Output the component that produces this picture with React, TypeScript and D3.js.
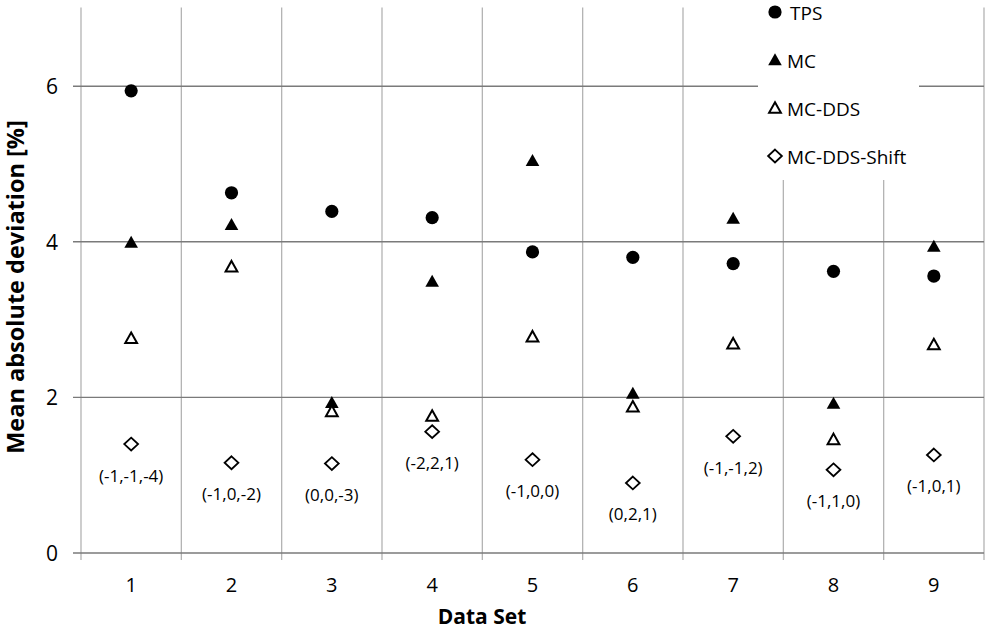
import { scaleBand, scaleLinear } from 'd3'

const categories = ['1', '2', '3', '4', '5', '6', '7', '8', '9']
const tps = [5.94, 4.63, 4.39, 4.31, 3.87, 3.8, 3.72, 3.62, 3.56]
const mc = [3.99, 4.22, 1.93, 3.49, 5.04, 2.05, 4.3, 1.92, 3.94]
const mcDds = [2.76, 3.68, 1.82, 1.76, 2.78, 1.88, 2.69, 1.46, 2.68]
const mcDdsShift = [1.4, 1.16, 1.15, 1.56, 1.2, 0.9, 1.5, 1.07, 1.26]
const shiftLabels = ['(-1,-1,-4)', '(-1,0,-2)', '(0,0,-3)', '(-2,2,1)', '(-1,0,0)', '(0,2,1)', '(-1,-1,2)', '(-1,1,0)', '(-1,0,1)']
const yTicks = [0, 2, 4, 6]
const legendNames = ['TPS', 'MC', 'MC-DDS', 'MC-DDS-Shift']

const W = 992
const H = 629
const left = 81
const right = 984
const top = 8.4
const bottom = 553
const font = '"Open Sans", sans-serif'

type Kind = 'circle' | 'tri' | 'openTri' | 'diamond'

function Marker({ kind, x, y }: { kind: Kind; x: number; y: number }) {
  if (kind === 'circle') return <circle cx={x} cy={y} r={6.6} fill="#000" />
  if (kind === 'tri')
    return <path d="M0,-6.8L6.8,5.2L-6.8,5.2Z" transform={`translate(${x},${y})`} fill="#000" />
  if (kind === 'openTri')
    return (
      <path
        d="M0,-5.8L5.9,4.8L-5.9,4.8Z"
        transform={`translate(${x},${y})`}
        fill="#fff"
        stroke="#000"
        strokeWidth={2}
      />
    )
  return (
    <path
      d="M0,-6.4L6.9,0L0,6.4L-6.9,0Z"
      transform={`translate(${x},${y})`}
      fill="#fff"
      stroke="#000"
      strokeWidth={1.8}
    />
  )
}

export default function App() {
  const x = scaleBand<string>().domain(categories).range([left, right]).paddingInner(0).paddingOuter(0)
  const y = scaleLinear().domain([0, 7]).range([bottom, top])
  const cx = (c: string) => (x(c) ?? 0) + x.bandwidth() / 2

  const series: { kind: Kind; values: number[] }[] = [
    { kind: 'circle', values: tps },
    { kind: 'tri', values: mc },
    { kind: 'openTri', values: mcDds },
    { kind: 'diamond', values: mcDdsShift },
  ]
  const legendKinds: Kind[] = ['circle', 'tri', 'openTri', 'diamond']
  const bounds = [...categories.map((c) => x(c) ?? 0), right]

  return (
    <svg
      width={W}
      height={H}
      style={{ position: 'absolute', left: 0, top: 0, background: '#fff' }}
      fontFamily={font}
    >
      <rect width={W} height={H} fill="#fff" />
      {/* vertical grid */}
      {bounds.map((b, i) => (
        <line key={`v${i}`} x1={b} x2={b} y1={top - 1} y2={bottom + 7} stroke="#b3b3b3" strokeWidth={1.3} />
      ))}
      {/* horizontal grid */}
      {yTicks.map((t) => (
        <line key={`h${t}`} x1={left - 8} x2={right} y1={y(t)} y2={y(t)} stroke="#7a7a7a" strokeWidth={1.4} />
      ))}
      {yTicks.map((t) => (
        <text key={`yl${t}`} x={58} y={y(t)} textAnchor="end" dominantBaseline="central" fontSize={21} fill="#000">
          {t}
        </text>
      ))}
      {categories.map((c) => (
        <text key={`xl${c}`} x={cx(c)} y={584} textAnchor="middle" dominantBaseline="central" fontSize={20} fill="#000">
          {c}
        </text>
      ))}
      <text x={482} y={624} textAnchor="middle" fontSize={21} fontWeight="bold">
        Data Set
      </text>
      <text
        transform={`translate(23.5,287) rotate(-90)`}
        textAnchor="middle"
        fontSize={23.5}
        fontWeight="bold"
      >
        Mean absolute deviation [%]
      </text>

      {series.map((s) =>
        s.values.map((v, i) => <Marker key={`${s.kind}${i}`} kind={s.kind} x={cx(categories[i])} y={y(v)} />)
      )}
      {shiftLabels.map((l, i) => (
        <text
          key={`sl${i}`}
          x={cx(categories[i])}
          y={y(mcDdsShift[i]) + 31}
          textAnchor="middle"
          dominantBaseline="central"
          fontSize={17}
        >
          {l}
        </text>
      ))}

      {/* legend */}
      <rect x={758} y={top - 2} width={161} height={180 - top + 2} fill="#fff" />
      {legendNames.map((n, i) => (
        <g key={n}>
          <Marker kind={legendKinds[i]} x={775} y={12 + i * 48} />
          <text x={i === 0 ? 790 : 787} y={13 + i * 48} dominantBaseline="central" fontSize={19}>
            {n}
          </text>
        </g>
      ))}
    </svg>
  )
}
